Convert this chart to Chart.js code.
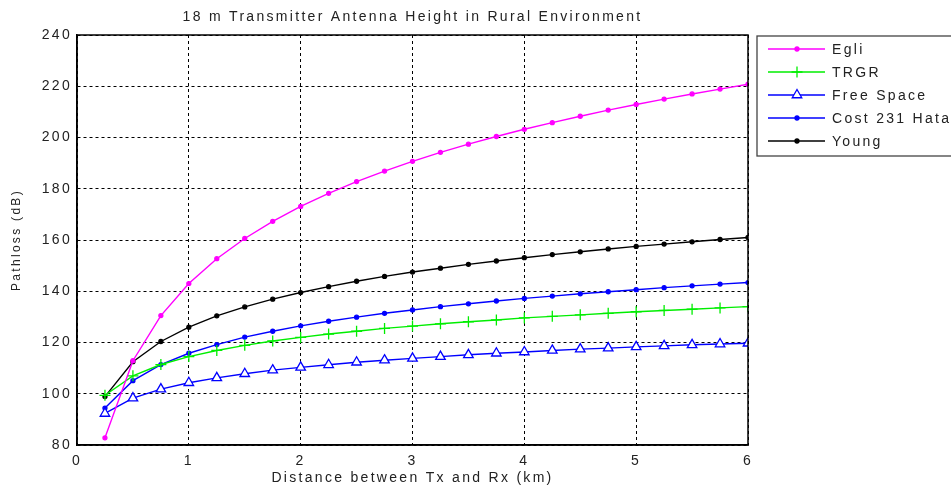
<!DOCTYPE html>
<html>
<head>
<meta charset="utf-8">
<script src="https://cdn.jsdelivr.net/npm/chart.js@4.4.1/dist/chart.umd.min.js"></script>
<style>
  html, body { margin: 0; padding: 0; background: #fff; }
  #chart { display: block; }
</style>
</head>
<body>
<canvas id="chart" width="951" height="491"></canvas>
<script>
// distance in km
const distance = [0.25, 0.5, 0.75, 1.0, 1.25, 1.5, 1.75, 2.0, 2.25, 2.5, 2.75, 3.0,
                  3.25, 3.5, 3.75, 4.0, 4.25, 4.5, 4.75, 5.0, 5.25, 5.5, 5.75, 6.0];

// pathloss (dB)
const egli      = [82.8, 112.9, 130.5, 143.0, 152.7, 160.6, 167.3, 173.1, 178.2, 182.8, 186.9, 190.7,
                   194.2, 197.4, 200.4, 203.2, 205.8, 208.3, 210.7, 212.9, 215.0, 217.0, 218.9, 220.8];
const trgr      = [99.4, 107.0, 111.4, 114.5, 116.9, 118.9, 120.6, 122.0, 123.3, 124.4, 125.5, 126.4,
                   127.3, 128.1, 128.8, 129.6, 130.2, 130.8, 131.4, 132.0, 132.5, 133.0, 133.5, 134.0];
const freeSpace = [92.3, 98.3, 101.8, 104.3, 106.2, 107.8, 109.2, 110.3, 111.3, 112.3, 113.1, 113.8,
                   114.5, 115.2, 115.8, 116.3, 116.9, 117.4, 117.8, 118.3, 118.7, 119.1, 119.4, 119.7];
const cost231   = [94.4, 105.1, 111.4, 115.8, 119.2, 122.1, 124.4, 126.5, 128.3, 129.9, 131.4, 132.7,
                   134.0, 135.1, 136.2, 137.2, 138.1, 139.0, 139.8, 140.6, 141.4, 142.1, 142.8, 143.4];
const young     = [98.9, 112.5, 120.4, 126.0, 130.4, 133.9, 136.9, 139.5, 141.8, 143.9, 145.8, 147.5,
                   149.0, 150.5, 151.8, 153.1, 154.3, 155.4, 156.5, 157.5, 158.4, 159.3, 160.2, 161.0];

const xTicks = [0, 1, 2, 3, 4, 5, 6];
const yTicks = [80, 100, 120, 140, 160, 180, 200, 220, 240];

const chartTitle = '18 m Transmitter Antenna Height in Rural Environment';
const FONT = 'Arimo, "Liberation Sans", Arial, sans-serif';
const SPACING = '2.3px';

function pts(ys) {
  return distance.map((d, i) => ({ x: d, y: ys[i] }));
}

function series(label, ys, color, style, radius, fill) {
  return {
    label: label,
    data: pts(ys),
    borderColor: color,
    backgroundColor: color,
    pointBackgroundColor: fill ? color : '#fff',
    pointBorderColor: color,
    pointStyle: style,
    pointRadius: radius,
    pointBorderWidth: 1.3,
    borderWidth: 1.4,
    tension: 0
  };
}

// matlab-ish wide letter spacing for every text
const spacingPlugin = {
  id: 'spacing',
  beforeInit(chart) { chart.ctx.letterSpacing = SPACING; },
  beforeDraw(chart) { chart.ctx.letterSpacing = SPACING; }
};

// frame, title and legend drawn like the original figure
const figurePlugin = {
  id: 'figure',
  afterDraw(chart) {
    const ctx = chart.ctx;
    const a = chart.chartArea;
    ctx.save();
    ctx.strokeStyle = '#000';
    ctx.lineWidth = 1.5;
    ctx.strokeRect(a.left, a.top, a.right - a.left, a.bottom - a.top);

    ctx.fillStyle = '#222';
    ctx.font = '14px ' + FONT;
    ctx.textAlign = 'center';
    ctx.textBaseline = 'middle';
    ctx.fillText(chartTitle, (a.left + a.right) / 2, 17);

    // legend box
    const bx = 757, by = 36, bw = 210, bh = 120;
    ctx.fillStyle = '#fff';
    ctx.fillRect(bx, by, bw, bh);
    ctx.strokeStyle = '#444';
    ctx.lineWidth = 1.3;
    ctx.strokeRect(bx, by, bw, bh);

    chart.data.datasets.forEach((ds, i) => {
      const y = 49 + i * 23;
      ctx.strokeStyle = ds.borderColor;
      ctx.lineWidth = 1.4;
      ctx.beginPath();
      ctx.moveTo(768, y);
      ctx.lineTo(825, y);
      ctx.stroke();
      ctx.fillStyle = ds.pointBackgroundColor;
      ctx.strokeStyle = ds.pointBorderColor;
      ctx.lineWidth = 1.3;
      Chart.helpers.drawPoint(ctx, {
        pointStyle: ds.pointStyle, radius: ds.pointRadius, rotation: 0, borderWidth: 1.3
      }, 797, y);
      ctx.fillStyle = '#222';
      ctx.font = '14px ' + FONT;
      ctx.textAlign = 'left';
      ctx.fillText(ds.label, 832, y + 1);
    });
    ctx.restore();
  }
};

const grid = {
  color: '#000',
  lineWidth: 1,
  drawTicks: false
};

const ctx = document.getElementById('chart');
const myChart = new Chart(ctx, {
  type: 'line',
  data: {
    datasets: [
      series('Egli', egli, '#ff00ff', 'circle', 2, true),
      series('TRGR', trgr, '#00ee00', 'cross', 5.5, true),
      series('Free Space', freeSpace, '#0000ff', 'triangle', 5.5, false),
      series('Cost 231 Hata', cost231, '#0000ff', 'circle', 2, true),
      series('Young', young, '#000000', 'circle', 2, true)
    ]
  },
  options: {
    responsive: false,
    animation: false,
    layout: { padding: { left: 0, top: 35, right: 203, bottom: 0 } },
    plugins: {
      legend: { display: false },
      title: { display: false },
      tooltip: { enabled: false }
    },
    scales: {
      x: {
        type: 'linear',
        min: 0,
        max: 6,
        afterBuildTicks: scale => { scale.ticks = xTicks.map(v => ({ value: v })); },
        afterFit: scale => { scale.height = 46; },
        grid: grid,
        border: { display: true, color: '#000', width: 1.5, dash: [3, 3] },
        ticks: { color: '#222', font: { size: 14, family: FONT }, padding: 8, maxRotation: 0 },
        title: {
          display: true,
          text: 'Distance between Tx and Rx (km)',
          color: '#222',
          font: { size: 14, family: FONT },
          padding: { top: 0, bottom: 4 }
        }
      },
      y: {
        type: 'linear',
        min: 80,
        max: 240,
        afterBuildTicks: scale => { scale.ticks = yTicks.map(v => ({ value: v })); },
        afterFit: scale => { scale.width = 77; },
        grid: grid,
        border: { display: true, color: '#000', width: 1.5, dash: [3, 3] },
        ticks: { color: '#222', font: { size: 14, family: FONT }, padding: 5 },
        title: {
          display: true,
          text: 'Pathloss (dB)',
          color: '#222',
          font: { size: 12, family: FONT },
          padding: { top: 9, bottom: 4 }
        }
      }
    }
  },
  plugins: [spacingPlugin, figurePlugin]
});
</script>
</body>
</html>
